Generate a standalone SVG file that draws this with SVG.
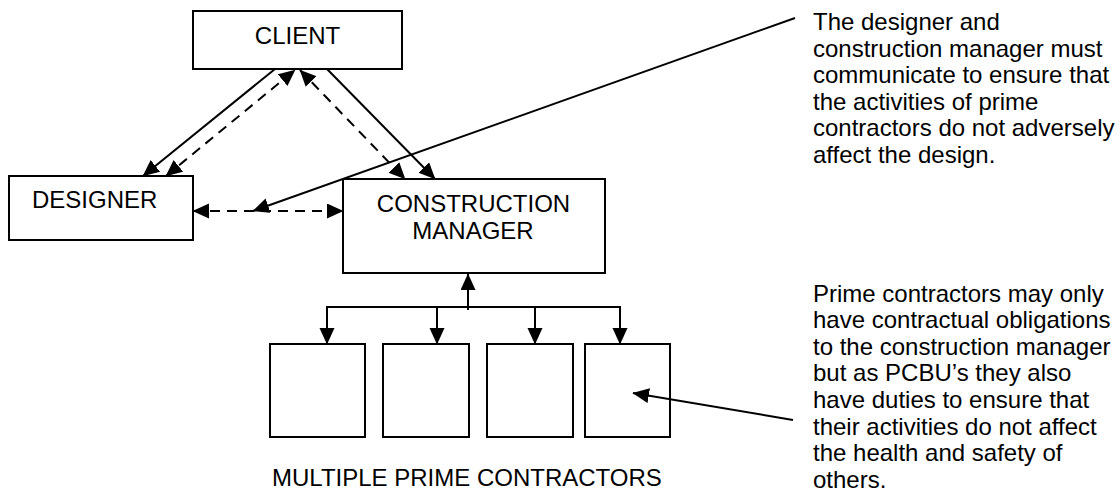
<svg xmlns="http://www.w3.org/2000/svg" width="1120" height="503" viewBox="0 0 1120 503">
<style>
.box{fill:#fff;stroke:#000;stroke-width:2}
.lbl{font-family:"Liberation Sans",Arial,sans-serif;font-size:24px;fill:#000}
.c{text-anchor:middle}
.ln{fill:none;stroke:#000;stroke-width:2}
.d{stroke-dasharray:10 7}
.a{marker-end:url(#ah)}
.aa{marker-start:url(#ah);marker-end:url(#ah)}
</style>
<defs>
<marker id="ah" markerUnits="userSpaceOnUse" markerWidth="18" markerHeight="16" refX="16" refY="7.5" orient="auto-start-reverse" viewBox="0 0 18 16">
<path d="M0,0 L16.5,7.5 L0,15 z" fill="#000" stroke="none"/>
</marker>
</defs>
<g id="client"><rect class="box" x="193" y="11" width="209" height="58"/><text class="lbl c" x="297.5" y="44">CLIENT</text></g>
<g id="designer"><rect class="box" x="9" y="176" width="184" height="64"/><text class="lbl" x="32" y="208">DESIGNER</text></g>
<g id="cm"><rect class="box" x="343" y="179" width="262" height="94"/><text class="lbl c" x="473.5" y="212">CONSTRUCTION</text><text class="lbl c" x="473" y="239">MANAGER</text></g>
<g id="pc1"><rect class="box" x="270" y="344" width="95" height="93"/></g>
<g id="pc2"><rect class="box" x="383" y="344" width="86" height="93"/></g>
<g id="pc3"><rect class="box" x="487" y="344" width="86" height="93"/></g>
<g id="pc4"><rect class="box" x="585" y="344" width="85" height="93"/></g>
<g id="pc-label"><text class="lbl" x="272" y="486">MULTIPLE PRIME CONTRACTORS</text></g>
<g id="note1"><text class="lbl"><tspan x="813" y="30">The designer and</tspan><tspan x="813" y="56.6">construction manager must</tspan><tspan x="813" y="83.2">communicate to ensure that</tspan><tspan x="813" y="109.8">the activities of prime</tspan><tspan x="813" y="136.4">contractors do not adversely</tspan><tspan x="813" y="163">affect the design.</tspan></text></g>
<g id="note2"><text class="lbl"><tspan x="813" y="301.5">Prime contractors may only</tspan><tspan x="813" y="328.1">have contractual obligations</tspan><tspan x="813" y="354.7">to the construction manager</tspan><tspan x="813" y="381.3">but as PCBU’s they also</tspan><tspan x="813" y="407.9">have duties to ensure that</tspan><tspan x="813" y="434.5">their activities do not affect</tspan><tspan x="813" y="461.1">the health and safety of</tspan><tspan x="813" y="487.7">others.</tspan></text></g>
<g id="connectors">
<path class="ln a" d="M275,69 L143,176"/>
<path class="ln d aa" d="M166,176 L295,70"/>
<path class="ln d aa" d="M300,70 L405,179"/>
<path class="ln a" d="M327,69 L435,179"/>
<path class="ln d aa" d="M193,211 L343,211"/>
<path class="ln a" d="M795,18 L253,211"/>
<path class="ln a" d="M468,310 L468,274"/>
<path class="ln" d="M327,307 L620,307"/>
<path class="ln a" d="M327,306 L327,344"/>
<path class="ln a" d="M437,306 L437,344"/>
<path class="ln a" d="M535,306 L535,344"/>
<path class="ln a" d="M620,306 L620,344"/>
<path class="ln a" d="M793,420 L633,393"/>
</g>
</svg>
